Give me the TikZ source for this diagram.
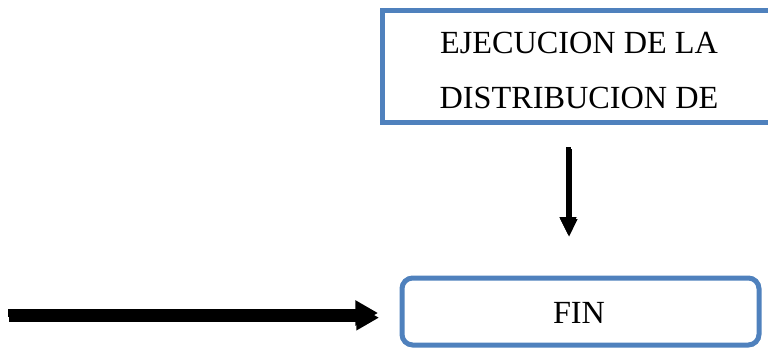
\documentclass[tikz,border=0pt]{standalone}
\usepackage{fontspec}
\setmainfont{Liberation Serif}
\usetikzlibrary{arrows.meta}
\definecolor{boxblue}{HTML}{4F81BD}
\definecolor{shade}{HTML}{A6A6A6}
\begin{document}
\begin{tikzpicture}[x=0.75pt,y=-0.75pt,
  boxstyle/.style={draw=boxblue,line width=3.75pt,inner sep=0pt,outer sep=0pt},
  txt/.style={font=\fontsize{24.2pt}{41.25pt}\selectfont,inner sep=0pt,anchor=base},
  arrv/.style={line width=3.75pt,-{Triangle[length=13.5pt,width=12pt]}},
  arrh/.style={line width=6pt,-{Triangle[length=17pt,width=18pt]}}]
\useasboundingbox (0,0) rectangle (768,347);
% top box
\node[boxstyle,minimum width=294pt,minimum height=84pt] (top) at (578,66) {};
\node[txt] (t1) at (579,53) {EJECUCION DE LA};
\node[txt] (t2) at (579,108) {DISTRIBUCION DE};
% FIN box
\node[boxstyle,rounded corners=8pt,minimum width=267.75pt,minimum height=50.25pt] (fin) at (580.5,311.5) {};
\node[txt] (tf) at (579,323) {FIN};
% vertical arrow
\coordinate (vs) at (568,147);
\coordinate (ve) at (568,235);
\draw[arrv,shade,transform canvas={xshift=0.75pt,yshift=-1.5pt}] (vs) -- (ve);
\draw[arrv] (vs) -- (ve);
% horizontal arrow
\coordinate (hs) at (8,313);
\coordinate (he) at (378,313);
\draw[arrh,shade,transform canvas={xshift=0.75pt,yshift=-3.5pt}] (hs) -- (he);
\draw[arrh] (hs) -- (he);
\end{tikzpicture}
\end{document}
